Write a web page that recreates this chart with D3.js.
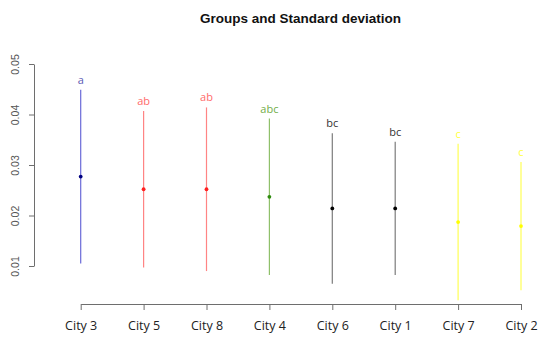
<!DOCTYPE html>
<html>
<head>
<meta charset="utf-8">
<script src="https://cdn.jsdelivr.net/npm/d3@7"></script>
<style>
  html, body { margin: 0; padding: 0; background: #fff; }
  svg { display: block; }
</style>
</head>
<body>
<svg id="chart" width="542" height="340"></svg>
<script>
// Group means with their standard deviations, ordered by mean
const cities = ["City 3", "City 5", "City 8", "City 4", "City 6", "City 1", "City 7", "City 2"];
const means  = [0.0277, 0.0252, 0.0252, 0.0237, 0.0214, 0.0214, 0.0187, 0.0179];
const sds    = [0.0172, 0.0155, 0.0162, 0.0155, 0.0149, 0.0132, 0.0155, 0.0127];
const groups = ["a", "ab", "ab", "abc", "bc", "bc", "c", "c"];
const yTicks = [0.01, 0.02, 0.03, 0.04, 0.05];

// Colour per letter group: bar/label colour and point colour
const groupBar   = { "a": "#6a6ad8", "ab": "#ff8484", "abc": "#8fc06a", "bc": "#7c7c7c", "c": "#ffff55" };
const groupLabel = { "a": "#5a5ab4", "ab": "#ff6a6a", "abc": "#72ad48", "bc": "#333333", "c": "#ffff40" };
const groupPoint = { "a": "#000080", "ab": "#ff2020", "abc": "#2e8b0e", "bc": "#000000", "c": "#ffff00" };

const svg = d3.select("#chart");

const x = d3.scalePoint().domain(cities).range([80.7, 521]).padding(0);
const y = d3.scaleLinear().domain([0.01, 0.05]).range([266, 64]);

// Title
svg.append("text")
  .attr("x", 300.5).attr("y", 23)
  .attr("text-anchor", "middle")
  .attr("font-family", "Liberation Sans, Arial, sans-serif")
  .attr("font-weight", "bold")
  .attr("font-size", "13.5px")
  .attr("fill", "#111")
  .text("Groups and Standard deviation");

// Y axis
const yAxis = svg.append("g")
  .attr("transform", "translate(34,0)")
  .call(d3.axisLeft(y).tickValues(yTicks).tickSize(5).tickSizeOuter(0)
    .tickFormat(d3.format(".2f")));
yAxis.select(".domain").attr("stroke", "#6e6e6e");
yAxis.selectAll(".tick line").attr("stroke", "#6e6e6e");
yAxis.selectAll(".tick text")
  .attr("font-family", "Liberation Sans, Arial, sans-serif")
  .attr("font-size", "10.5px")
  .attr("fill", "#555")
  .attr("text-anchor", "middle")
  .attr("dy", null)
  .attr("x", null)
  .attr("transform", "translate(-19,0) rotate(-90)")
  .attr("dominant-baseline", "central");

// X axis
const xAxis = svg.append("g")
  .attr("transform", "translate(0,304)")
  .call(d3.axisBottom(x).tickSize(6).tickSizeOuter(0));
xAxis.select(".domain").attr("stroke", "#6e6e6e");
xAxis.selectAll(".tick line").attr("stroke", "#6e6e6e");
xAxis.selectAll(".tick text")
  .attr("font-family", "Open Sans, sans-serif")
  .attr("font-size", "12.5px")
  .attr("fill", "#222")
  .attr("y", 22)
  .attr("dy", "0.35em");

// Error bars (mean ± sd), points and group letters
const rows = cities.map((c, i) => ({ city: c, mean: means[i], sd: sds[i], group: groups[i] }));

svg.append("g").selectAll("line")
  .data(rows).join("line")
  .attr("x1", d => x(d.city)).attr("x2", d => x(d.city))
  .attr("y1", d => y(d.mean - d.sd)).attr("y2", d => y(d.mean + d.sd))
  .attr("stroke", d => groupBar[d.group])
  .attr("stroke-width", 1.2);

svg.append("g").selectAll("circle")
  .data(rows).join("circle")
  .attr("cx", d => x(d.city)).attr("cy", d => y(d.mean))
  .attr("r", 1.9)
  .attr("fill", d => groupPoint[d.group]);

svg.append("g").selectAll("text")
  .data(rows).join("text")
  .attr("x", d => x(d.city)).attr("y", d => y(d.mean + d.sd) - 6)
  .attr("text-anchor", "middle")
  .attr("font-family", "Open Sans, sans-serif")
  .attr("font-size", "11px")
  .attr("fill", d => groupLabel[d.group])
  .text(d => d.group);
</script>
</body>
</html>
